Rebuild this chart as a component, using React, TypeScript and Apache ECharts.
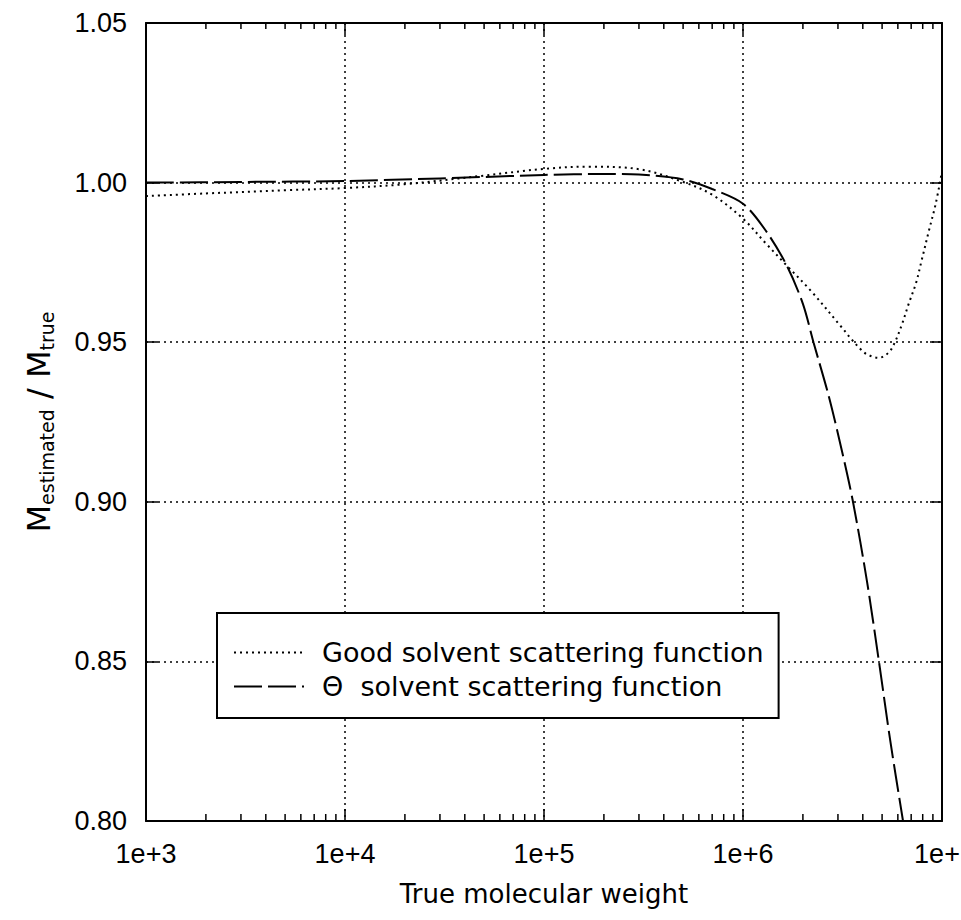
import React, { useEffect, useRef } from "react";
import * as echarts from "echarts";

// True molecular weight (x) and M_estimated / M_true (y)
const goodM = [1e3, 2e3, 5e3, 1e4, 2e4, 5e4, 1e5, 1.7e5, 3e5, 5e5, 7e5, 1e6, 1.3e6, 1.66e6, 2.2e6, 3.1e6, 3.5e6, 3.9e6, 4.2e6, 4.8e6, 5.4e6, 5.8e6, 6.3e6, 6.8e6, 7.4e6, 7.9e6, 8.6e6, 9.3e6, 1e7];
const goodRatio = [0.9958, 0.9966, 0.9976, 0.9983, 0.9995, 1.0022, 1.0043, 1.005, 1.0042, 1.0002, 0.9962, 0.9887, 0.981, 0.974, 0.966, 0.955, 0.951, 0.9478, 0.9462, 0.9451, 0.9468, 0.95, 0.9557, 0.962, 0.9685, 0.9756, 0.985, 0.9934, 1.0035];
const thetaM = [1e3, 3e3, 1e4, 3e4, 1e5, 2e5, 3e5, 5e5, 7e5, 1e6, 1.3e6, 1.66e6, 2e6, 2.26e6, 2.7e6, 3.14e6, 3.57e6, 4.2e6, 4.82e6, 5.5e6, 6.37e6];
const thetaRatio = [1.0, 1.0002, 1.0005, 1.0013, 1.0024, 1.0027, 1.0025, 1.001, 0.998, 0.9934, 0.985, 0.974, 0.962, 0.95, 0.933, 0.916, 0.9, 0.875, 0.85, 0.825, 0.8];

const seriesNames = ["Good solvent scattering function", "Θ  solvent scattering function"];
const xMin = 1e3;
const xMax = 1e7;
const yMin = 0.8;
const yMax = 1.05;
const yStep = 0.05;
const lastXLabel = "1e+"; // the reference's right-most label is cropped to "1e+"
const decades = [1e3, 1e4, 1e5, 1e6];
const minorMultipliers = [2, 3, 4, 5, 6, 7, 8, 9];
const minorTicks: number[] = [];
decades.forEach((d) => minorMultipliers.forEach((m) => minorTicks.push(d * m)));

const NUM_FONT = "'Liberation Sans', Arial, Helvetica, sans-serif";
const TXT_FONT = "'DejaVu Sans', 'Liberation Sans', sans-serif";

export default function App() {
  const ref = useRef<HTMLDivElement>(null);
  useEffect(() => {
    if (!ref.current) return;
    const chart = echarts.init(ref.current, null, { renderer: "svg" });
    const axisLine = { show: true, lineStyle: { color: "#000", width: 2 } };
    const gridLine = { show: true, lineStyle: { color: "#000", width: 1.5, type: [2, 4] as any } };
    const tick = { show: true, inside: true, length: 12, lineStyle: { color: "#000", width: 1.5 } };
    const option: any = {
      animation: false,
      backgroundColor: "#fff",
      grid: { left: 146, right: 19, top: 23, bottom: 99, outerBoundsMode: "none", containLabel: false },
      legend: {
        data: seriesNames,
        orient: "vertical",
        left: 217,
        top: 613,
        padding: [26, 15, 18, 16],
        itemGap: 7,
        itemWidth: 70,
        itemHeight: 14,
        borderColor: "#000",
        borderWidth: 2,
        backgroundColor: "#fff",
        selectedMode: false,
        itemStyle: { color: "rgba(0,0,0,0)", borderWidth: 0, opacity: 0 },
        textStyle: { fontFamily: TXT_FONT, fontSize: 27, color: "#000", padding: [0, 0, 0, 13], lineHeight: 26 },
      },
      xAxis: [
        {
          type: "log",
          logBase: 10,
          min: xMin,
          max: xMax,
          position: "bottom",
          name: "True molecular weight",
          nameLocation: "middle",
          nameGap: 60,
          nameTextStyle: { fontFamily: TXT_FONT, fontSize: 26, color: "#000" },
          axisLine,
          axisTick: tick,
          axisLabel: {
            margin: 19,
            fontFamily: NUM_FONT,
            fontSize: 27,
            color: "#000",
            hideOverlap: false,
            formatter: (v: number) =>
              v >= xMax ? "{e|" + lastXLabel + "}" : "1e+" + Math.round(Math.log10(v)),
            rich: {
              e: { fontFamily: NUM_FONT, fontSize: 27, color: "#000", padding: [0, 10, 0, 0] },
            },
          },
          splitLine: gridLine,
        },
        {
          type: "log",
          logBase: 10,
          min: xMin,
          max: xMax,
          position: "top",
          axisLine,
          axisTick: tick,
          axisLabel: { show: false },
          splitLine: { show: false },
        },
      ],
      yAxis: [
        {
          type: "value",
          min: yMin,
          max: yMax,
          interval: yStep,
          position: "left",
          name: "{m|M}{s|estimated}{m| / M}{s|true}",
          nameLocation: "middle",
          nameGap: 90,
          nameRotate: 90,
          nameTextStyle: {
            color: "#000",
            rich: {
              m: { fontFamily: TXT_FONT, fontSize: 32, lineHeight: 34, color: "#000" },
              s: { fontFamily: TXT_FONT, fontSize: 19, lineHeight: 19, padding: [15, 0, 0, 0], color: "#000" },
            },
          },
          axisLine,
          axisTick: tick,
          axisLabel: {
            margin: 19,
            fontFamily: NUM_FONT,
            fontSize: 27,
            color: "#000",
            formatter: (v: number) => v.toFixed(2),
          },
          splitLine: gridLine,
        },
        {
          type: "value",
          min: yMin,
          max: yMax,
          interval: yStep,
          position: "right",
          axisLine,
          axisTick: tick,
          axisLabel: { show: false },
          splitLine: { show: false },
        },
      ],
      series: [
        {
          name: seriesNames[0],
          type: "line",
          data: goodM.map((m, i) => [m, goodRatio[i]]),
          symbol: "none",
          smooth: 0.35,
          lineStyle: { color: "#000", width: 2, type: [2, 4] },
          itemStyle: { color: "#000" },
          z: 3,
        },
        {
          name: seriesNames[1],
          type: "line",
          data: thetaM.map((m, i) => [m, thetaRatio[i]]),
          symbol: "none",
          smooth: 0.3,
          lineStyle: { color: "#000", width: 2, type: [28, 6] },
          itemStyle: { color: "#000" },
          z: 3,
        },
        {
          type: "custom",
          silent: true,
          clip: false,
          data: minorTicks.map((v) => [v, yMin]),
          renderItem: (params: any, api: any) => {
            const x = api.value(0);
            const b = api.coord([x, yMin]);
            const t = api.coord([x, yMax]);
            const st = { stroke: "#000", lineWidth: 1.5 };
            return {
              type: "group",
              children: [
                { type: "line", shape: { x1: b[0], y1: b[1], x2: b[0], y2: b[1] - 7 }, style: st },
                { type: "line", shape: { x1: t[0], y1: t[1], x2: t[0], y2: t[1] + 6 }, style: st },
              ],
            };
          },
          z: 4,
        },
      ],
    };
    chart.setOption(option);
    return () => chart.dispose();
  }, []);
  return (
    <div
      ref={ref}
      style={{ position: "absolute", left: 0, top: 0, width: 961, height: 920, background: "#fff" }}
    />
  );
}
